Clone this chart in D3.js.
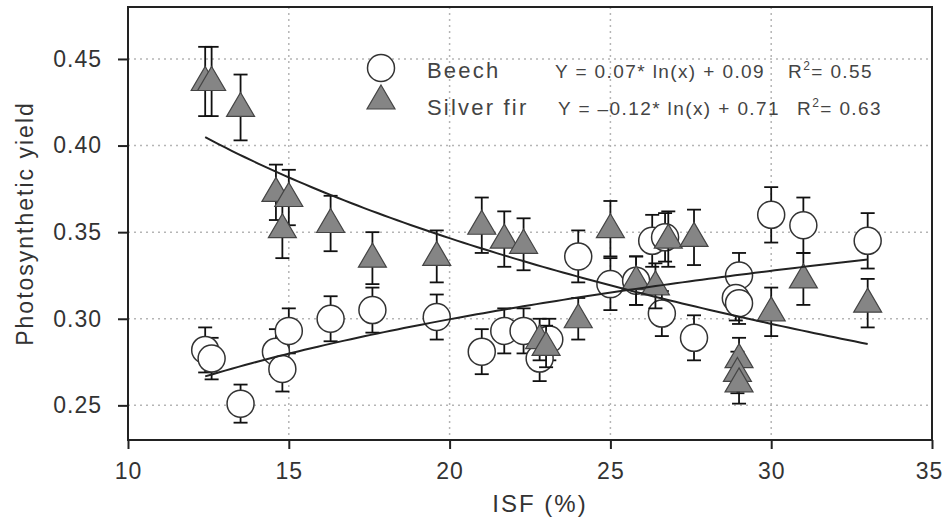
<!DOCTYPE html>
<html>
<head>
<meta charset="utf-8">
<script src="https://cdn.jsdelivr.net/npm/d3@7.9.0/dist/d3.min.js"></script>
<style>
  body { margin: 0; background: #fff; }
  svg { display: block; font-family: "Liberation Sans", Arial, sans-serif; }
</style>
</head>
<body>
<svg id="chart" width="944" height="519"></svg>
<script>
// Beech (circles)
const beechX = [12.4, 12.6, 13.5, 14.6, 14.8, 15.0, 16.3, 17.6, 19.6, 21.0, 21.7, 22.3, 22.8, 23.1,
  24.0, 25.0, 25.8, 26.3, 26.7, 26.6, 27.6, 29.0, 28.9, 29.0, 30.0, 31.0, 33.0];
const beechY = [0.282, 0.277, 0.251, 0.281, 0.271, 0.293, 0.300, 0.305, 0.301, 0.281, 0.293, 0.293, 0.277, 0.288,
  0.336, 0.320, 0.322, 0.345, 0.347, 0.303, 0.289, 0.325, 0.312, 0.309, 0.360, 0.354, 0.345];
const beechErr = [0.013, 0.012, 0.011, 0.013, 0.013, 0.013, 0.013, 0.013, 0.013, 0.013, 0.013, 0.013, 0.013, 0.012,
  0.015, 0.015, 0.014, 0.015, 0.014, 0.013, 0.013, 0.013, 0.013, 0.012, 0.016, 0.016, 0.016];

// Silver fir (triangles)
const firX = [12.4, 12.6, 13.5, 14.6, 15.0, 14.8, 16.3, 17.6, 19.6, 21.0, 21.7, 22.3, 22.8, 23.0,
  24.0, 25.0, 25.8, 26.4, 26.8, 27.6, 29.0, 28.95, 29.0, 30.0, 31.0, 33.0];
const firY = [0.437, 0.437, 0.422, 0.373, 0.370, 0.352, 0.355, 0.335, 0.336, 0.354, 0.346, 0.343, 0.288, 0.284,
  0.300, 0.352, 0.322, 0.319, 0.346, 0.347, 0.277, 0.269, 0.263, 0.304, 0.323, 0.309];
const firErr = [0.020, 0.020, 0.019, 0.016, 0.016, 0.017, 0.016, 0.015, 0.015, 0.016, 0.016, 0.015, 0.012, 0.012,
  0.012, 0.016, 0.014, 0.013, 0.016, 0.016, 0.012, 0.012, 0.012, 0.014, 0.015, 0.014];

// log fits  y = a*ln(x) + b
const beechFit = [0.069, 0.093];
const firFit = [-0.122, 0.712];

const xTicks = [10, 15, 20, 25, 30, 35];
const yTicks = [0.25, 0.30, 0.35, 0.40, 0.45];

const svg = d3.select('#chart');
const mLeft = 128, mRight = 932, mTop = 7, mBottom = 440;

const x = d3.scaleLinear().domain([10, 35]).range([mLeft, mRight]);
const y = d3.scaleLinear().domain([0.23, 0.48]).range([mBottom, mTop]);

// grid
svg.append('g').selectAll('line').data(xTicks.slice(1, -1)).join('line')
  .attr('x1', d => x(d)).attr('x2', d => x(d)).attr('y1', mTop).attr('y2', mBottom)
  .attr('stroke', '#b5b5b5').attr('stroke-width', 1.5).attr('stroke-dasharray', '2,4');
svg.append('g').selectAll('line').data(yTicks).join('line')
  .attr('x1', mLeft).attr('x2', mRight).attr('y1', d => y(d)).attr('y2', d => y(d))
  .attr('stroke', '#b5b5b5').attr('stroke-width', 1.5).attr('stroke-dasharray', '2,4');

// frame
svg.append('rect').attr('x', mLeft).attr('y', mTop).attr('width', mRight - mLeft).attr('height', mBottom - mTop)
  .attr('fill', 'none').attr('stroke', '#222').attr('stroke-width', 2);

// axes
const xAxis = svg.append('g').attr('transform', `translate(0,${mBottom})`)
  .call(d3.axisBottom(x).tickValues(xTicks).tickSize(9).tickPadding(14));
const yAxis = svg.append('g').attr('transform', `translate(${mLeft},0)`)
  .call(d3.axisLeft(y).tickValues(yTicks).tickFormat(d3.format('.2f')).tickSize(10).tickPadding(16));
[xAxis, yAxis].forEach(g => {
  g.select('.domain').remove();
  g.selectAll('line').attr('stroke', '#222').attr('stroke-width', 2);
  g.selectAll('text').attr('fill', '#333').style('font-size', '23px').style('letter-spacing', '1px')
    .style('font-family', '"Liberation Sans", Arial, sans-serif');
});
// keep the last label inside the picture
xAxis.selectAll('.tick text').filter(d => d === 35).attr('dx', -3);

// axis titles
svg.append('text').attr('x', 540).attr('y', 512).attr('text-anchor', 'middle')
  .attr('fill', '#333').style('font-size', '24px').style('letter-spacing', '2px').text('ISF (%)');
svg.append('text').attr('transform', `translate(33,${(mTop + mBottom) / 2}) rotate(-90)`)
  .attr('text-anchor', 'middle').attr('fill', '#333').style('font-size', '23px').style('letter-spacing', '2px')
  .text('Photosynthetic yield');

// fitted curves
function fitLine(fit, xs) {
  const [lo, hi] = d3.extent(xs);
  const pts = d3.range(0, 101).map(i => lo + (hi - lo) * i / 100);
  return d3.line().x(d => x(d)).y(d => y(fit[0] * Math.log(d) + fit[1]))(pts);
}

const triPath = 'M0,-15L14,9L-14,9Z';

function drawSeries(xs, ys, es, kind) {
  const g = svg.append('g');
  const data = xs.map((d, i) => ({ x: d, y: ys[i], e: es[i] }));
  const eb = g.append('g').attr('stroke', '#111').attr('stroke-width', 1.8);
  data.forEach(d => {
    const cx = x(d.x), y1 = y(d.y + d.e), y2 = y(d.y - d.e);
    eb.append('line').attr('x1', cx).attr('x2', cx).attr('y1', y1).attr('y2', y2);
    eb.append('line').attr('x1', cx - 7).attr('x2', cx + 7).attr('y1', y1).attr('y2', y1);
    eb.append('line').attr('x1', cx - 7).attr('x2', cx + 7).attr('y1', y2).attr('y2', y2);
  });
  if (kind === 'circle') {
    g.selectAll('circle').data(data).join('circle')
      .attr('cx', d => x(d.x)).attr('cy', d => y(d.y)).attr('r', 13.5)
      .attr('fill', '#fff').attr('stroke', '#333').attr('stroke-width', 1.5);
  } else {
    g.selectAll('path').data(data).join('path')
      .attr('d', triPath).attr('transform', d => `translate(${x(d.x)},${y(d.y)})`)
      .attr('fill', '#858585').attr('stroke', '#444').attr('stroke-width', 1.2);
  }
}

drawSeries(beechX, beechY, beechErr, 'circle');
drawSeries(firX, firY, firErr, 'triangle');

svg.append('path').attr('d', fitLine(beechFit, beechX)).attr('fill', 'none').attr('stroke', '#222').attr('stroke-width', 2);
svg.append('path').attr('d', fitLine(firFit, firX)).attr('fill', 'none').attr('stroke', '#222').attr('stroke-width', 2);

// legend
const lg = svg.append('g').attr('fill', '#444');
lg.append('circle').attr('cx', 381).attr('cy', 68).attr('r', 13.5).attr('fill', '#fff').attr('stroke', '#333').attr('stroke-width', 1.5);
lg.append('path').attr('d', triPath).attr('transform', 'translate(381,100)').attr('fill', '#858585').attr('stroke', '#444').attr('stroke-width', 1.2);
lg.append('text').attr('x', 427).attr('y', 78).style('font-size', '22px').style('letter-spacing', '2.2px').text('Beech');
lg.append('text').attr('x', 427).attr('y', 115).style('font-size', '22px').style('letter-spacing', '2.2px').text('Silver fir');

function eqText(yPos, xPos, eq, r2x, r2) {
  lg.append('text').attr('x', xPos).attr('y', yPos).style('font-size', '19px').style('letter-spacing', '1.4px').text(eq);
  const t = lg.append('text').attr('x', r2x).attr('y', yPos).style('font-size', '19px').style('letter-spacing', '1.4px');
  t.append('tspan').text('R');
  t.append('tspan').attr('dy', -8).style('font-size', '12px').text('2');
  t.append('tspan').attr('dy', 8).text('= ' + r2);
}
eqText(78, 555, 'Y = 0.07* ln(x) + 0.09', 788, '0.55');
eqText(115, 558, 'Y = \u20130.12* ln(x) + 0.71', 797, '0.63');
</script>
</body>
</html>
